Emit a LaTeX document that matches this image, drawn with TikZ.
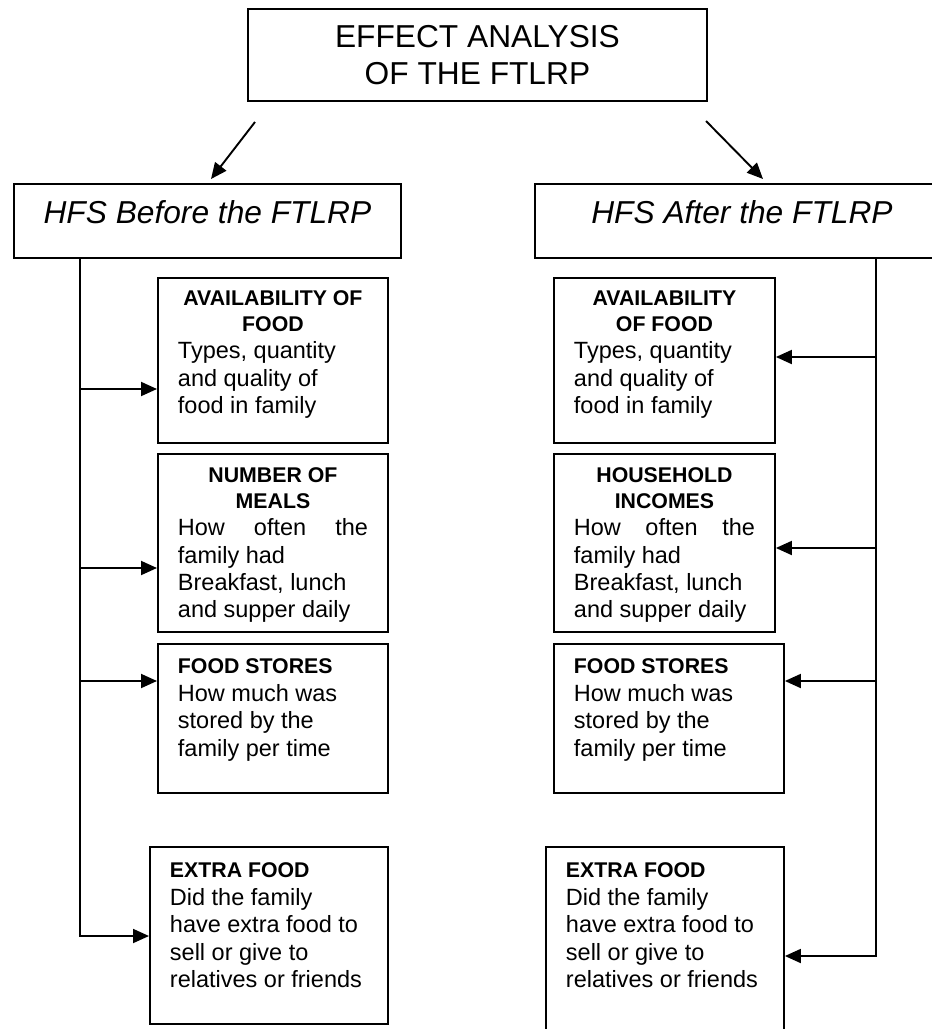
\documentclass[tikz,border=0pt]{standalone}
\usepackage{fontspec}
\setmainfont{Liberation Sans}
\usetikzlibrary{arrows.meta}

\newcommand{\hd}{\fontsize{21.3}{25.4}\selectfont\bfseries}
\newcommand{\bd}{\fontsize{23.5}{27.4}\selectfont}
\newcommand{\boxtext}[4]{\parbox[c][#2][t]{#1}{\rule{0pt}{#3}#4}}

\tikzset{
  box/.style={draw, line width=1.9pt, anchor=north west, inner ysep=0pt, inner xsep=20pt},
  head/.style={draw, line width=1.9pt, anchor=north west, inner sep=0pt, font=\fontsize{31.7}{37}\selectfont},
  arr/.style={line width=1.9pt, -{Triangle[length=16pt,width=14pt]}},
}

\begin{document}
\begin{tikzpicture}[x=1pt,y=-1pt]
\useasboundingbox (0,0) rectangle (932,1029);
\fill[white] (0,0) rectangle (932,1029);
\clip (0,0) rectangle (932,1029);

% Title and the two sides
\node[head] (title) at (247,8) {\boxtext{459pt}{92pt}{39pt}{\centering EFFECT ANALYSIS\\OF THE FTLRP\par}};
\node[head] (before) at (13,183) {\boxtext{387pt}{74pt}{40pt}{\centering\itshape HFS Before the FTLRP\par}};
\node[head] (after) at (534,183) {\boxtext{480pt}{74pt}{40pt}{\hbox to 414pt{\hss\itshape HFS After the FTLRP\hss}\par}};

\coordinate (ds1) at (255,122);
\coordinate (de1) at (211,179);
\coordinate (ds2) at (706,121);
\coordinate (de2) at (763,179);
\draw[arr] (ds1) -- (de1);
\draw[arr] (ds2) -- (de2);

% Before the FTLRP
\node[box] (bavail) at (157,277) {\boxtext{190pt}{165pt}{28pt}{%
  {\hd\centering AVAILABILITY OF\\FOOD\par}
  {\bd Types, quantity\\and quality of\\food in family\par}}};
\node[box] (bmeals) at (157,453) {\boxtext{190pt}{178pt}{29pt}{%
  {\hd\centering NUMBER OF\\MEALS\par}
  {\bd\makebox[\linewidth][s]{How often the}\\family had\\Breakfast, lunch\\and supper daily\par}}};
\node[box] (bstores) at (157,643) {\boxtext{190pt}{149pt}{30pt}{%
  {\hd FOOD STORES\par}
  {\bd How much was\\stored by the\\family per time\par}}};
\node[box] (bextra) at (149,846) {\boxtext{198pt}{177pt}{31pt}{%
  {\hd EXTRA FOOD\par}
  {\bd Did the family\\have extra food to\\sell or give to\\relatives or friends\par}}};

% After the FTLRP
\node[box] (aavail) at (553,277) {\boxtext{181pt}{165pt}{28pt}{%
  {\hd\centering AVAILABILITY\\OF FOOD\par}
  {\bd Types, quantity\\and quality of\\food in family\par}}};
\node[box] (aincome) at (553,453) {\boxtext{181pt}{178pt}{29pt}{%
  {\hd\centering HOUSEHOLD\\INCOMES\par}
  {\bd\makebox[\linewidth][s]{How often the}\\family had\\Breakfast, lunch\\and supper daily\par}}};
\node[box] (astores) at (553,643) {\boxtext{190pt}{149pt}{30pt}{%
  {\hd FOOD STORES\par}
  {\bd How much was\\stored by the\\family per time\par}}};
\node[box] (aextra) at (545,846) {\boxtext{198pt}{220pt}{31pt}{%
  {\hd EXTRA FOOD\par}
  {\bd Did the family\\have extra food to\\sell or give to\\relatives or friends\par}}};

% Left trunk
\coordinate (bt) at (80,257);
\coordinate (b1) at (80,389);
\coordinate (b2) at (80,568);
\coordinate (b3) at (80,681);
\coordinate (b4) at (80,936);
\draw[arr] (bt) |- (b4 -| bextra.west);
\draw[arr] (b1) -- (b1 -| bavail.west);
\draw[arr] (b2) -- (b2 -| bmeals.west);
\draw[arr] (b3) -- (b3 -| bstores.west);

% Right trunk
\coordinate (at) at (876,257);
\coordinate (a1) at (876,357);
\coordinate (a2) at (876,548);
\coordinate (a3) at (876,681);
\coordinate (a4) at (876,956);
\draw[arr] (at) |- (a4 -| aextra.east);
\draw[arr] (a1) -- (a1 -| aavail.east);
\draw[arr] (a2) -- (a2 -| aincome.east);
\draw[arr] (a3) -- (a3 -| astores.east);
\end{tikzpicture}
\end{document}
